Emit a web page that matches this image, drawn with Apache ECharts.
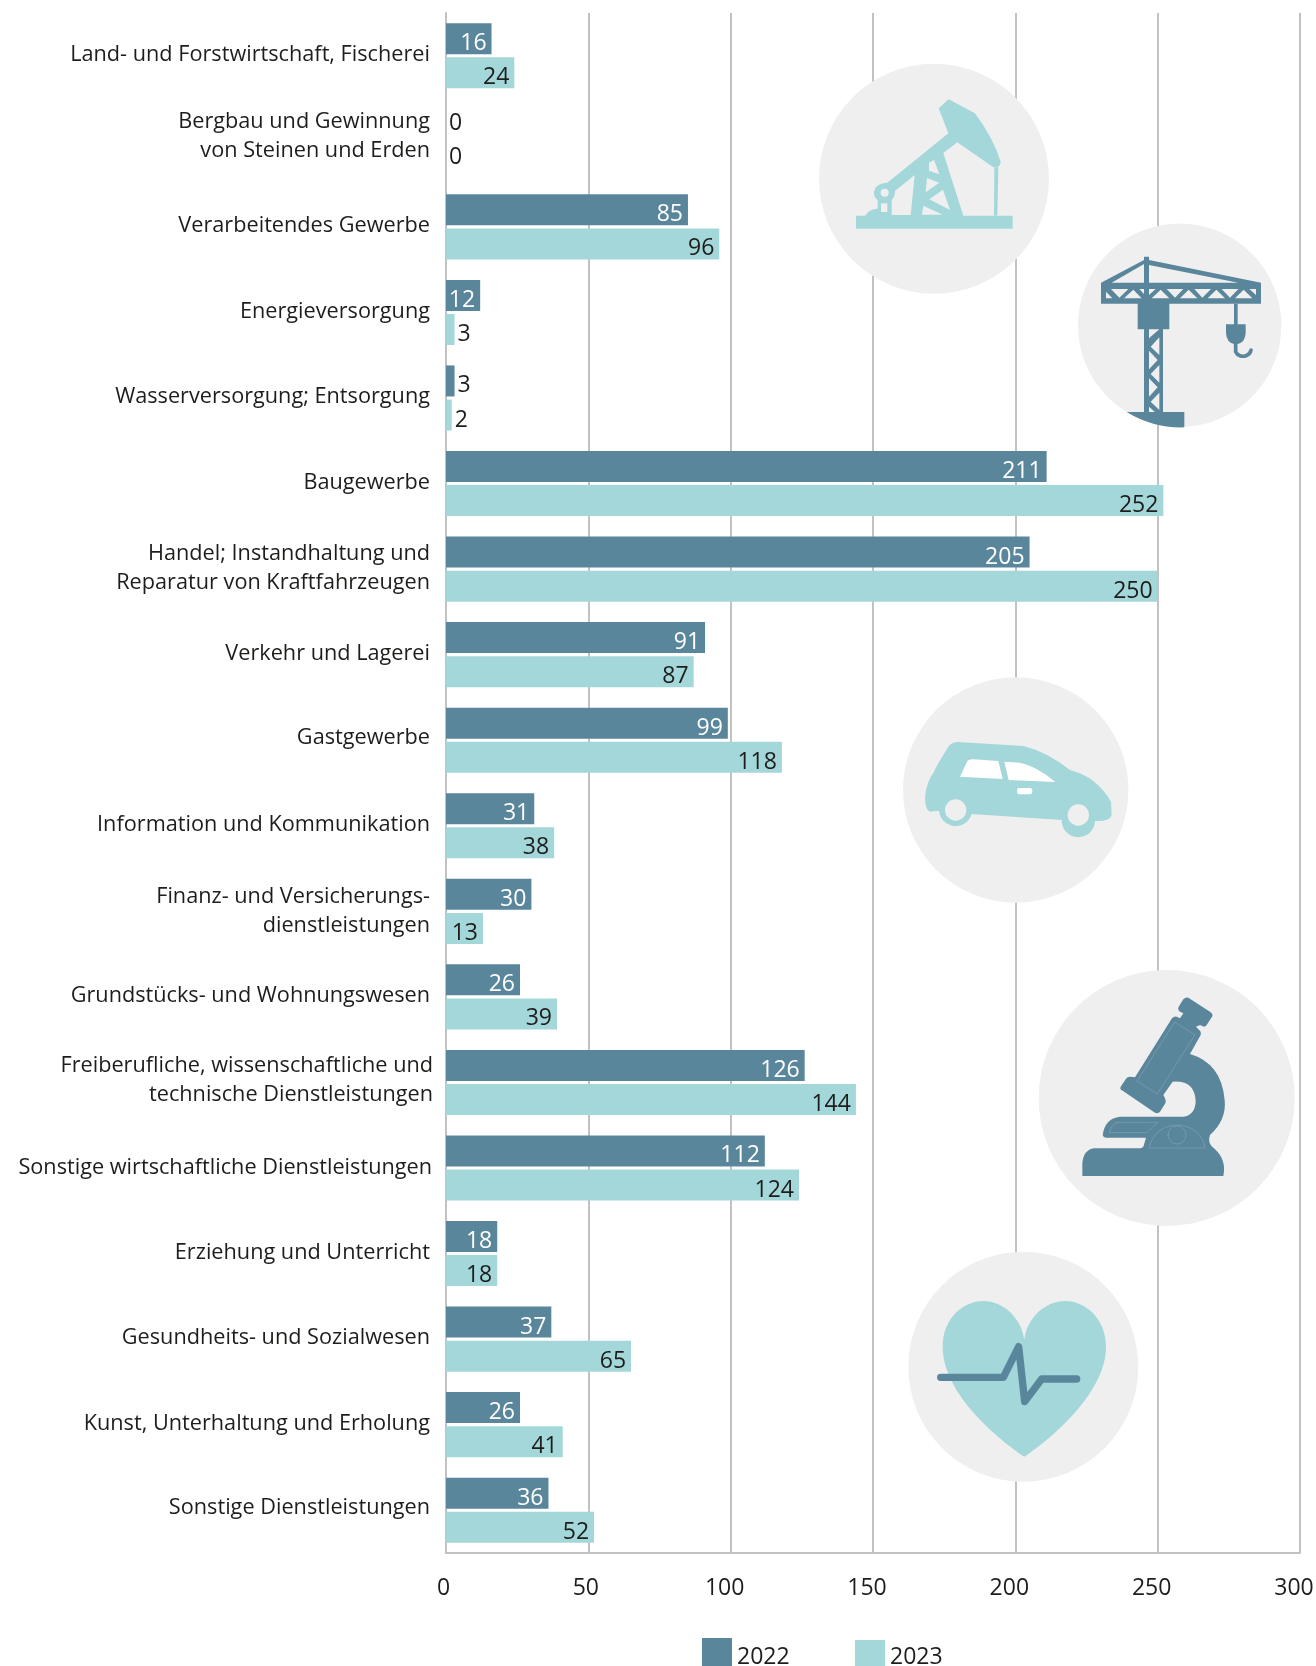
<!DOCTYPE html>
<html><head><meta charset="utf-8">
<style>html,body{margin:0;padding:0;background:#fff;overflow:hidden}#c{width:1316px;height:1666px}</style>
<script src="https://cdn.jsdelivr.net/npm/echarts@6/dist/echarts.min.js"></script>
</head><body><div id="c"></div>
<script>
const categories = ["Land- und Forstwirtschaft, Fischerei","Bergbau und Gewinnung\nvon Steinen und Erden","Verarbeitendes Gewerbe","Energieversorgung","Wasserversorgung; Entsorgung","Baugewerbe","Handel; Instandhaltung und\nReparatur von Kraftfahrzeugen","Verkehr und Lagerei","Gastgewerbe","Information und Kommunikation","Finanz- und Versicherungs-\ndienstleistungen","Grundstücks- und Wohnungswesen","Freiberufliche, wissenschaftliche und\ntechnische Dienstleistungen","Sonstige wirtschaftliche Dienstleistungen","Erziehung und Unterricht","Gesundheits- und Sozialwesen","Kunst, Unterhaltung und Erholung","Sonstige Dienstleistungen"];
const values2022 = [16,0,85,12,3,211,205,91,99,31,30,26,126,112,18,37,26,36];
const values2023 = [24,0,96,3,2,252,250,87,118,38,13,39,144,124,18,65,41,52];
const DARK = '#5a869c', LIGHT = '#a4d7da', CIRCLE = '#efefef', FONT = '"Open Sans"', TXT = '#1d1d1b', GRID = '#c2c2c2';

// Style nudges for the category labels (pixels up, pixels right), same order as categories.
const labelUp = [1,5,1,1,1,1,1,1,2,1,0,1,2,0,1,1,1,2];
const labelRight = [0,0,0,0,0,0,0,0,0,0,0,0,3,2,0,0,0,0];

function circle(cx, cy, r){ return {type:'circle', shape:{cx,cy,r}, style:{fill:CIRCLE}, z:1}; }
let shapeId = 0;
function icon(x, y, items){
  return {type:'group', x, y, scaleX:1/3, scaleY:1/3, z:2, children:items.map(i=>{
    const name = 'iconShape' + (shapeId++);
    echarts.graphic.registerShape(name, echarts.graphic.extendPath(i.d, {}));
    return {type:name, style:{fill:i.fill||'none', stroke:i.stroke||null, lineWidth:i.w||0, lineCap:'round', lineJoin:'round'}, z:2};
  })};
}
const pump = [
 {fill:LIGHT,d:'M228 527H256Q268 506 293 506V480Q280 470 282 455Q286 430 322 428L505 280L476 205L506 178L585 220Q640 295 662 365Q662 378 650 382L640 382L532 307L490 339L550 527H698V566H228Z'},
 {fill:LIGHT,d:'M643 382H655L652 527H642Z'},
 {fill:CIRCLE,d:'M345 453L404 405L392 525L335 525V480Q345 470 345 453Z'},
 {fill:CIRCLE,d:'M447 368L462 360L478 403L447 392Z'},
 {fill:CIRCLE,d:'M441 414L478 428L437 457Z'},
 {fill:CIRCLE,d:'M489 449L510 510L448 478Z'},
 {fill:CIRCLE,d:'M430 497L488 524L426 524Z'},
 {fill:CIRCLE,d:'M302 458A12 12 0 1 0 326 458A12 12 0 1 0 302 458Z'},
 {fill:CIRCLE,d:'M303 490H322V516H303Z'}
];
const crane = [
 {fill:DARK,d:'M963 728L1092 660V650H1107V660L1443 728V791H1168V868H1149V1116H1213V1162Q1120 1165 1040 1116H1092V868H1073V791H963Z'},
 {fill:CIRCLE,d:'M995 728L1092 672V728Z'},
 {fill:CIRCLE,d:'M1107 675L1375 728H1107Z'},
 {fill:CIRCLE,d:'M978 755L997 775H978ZM993 747H1045L1018 773ZM1032 775L1060 749L1085 775ZM1078 747H1092V762ZM1107 747H1127L1107 765ZM1115 775L1142 749L1168 775ZM1160 747H1210L1185 773ZM1200 775L1226 749L1252 775ZM1243 747H1293L1267 773ZM1283 775L1309 749L1335 775ZM1325 747H1375L1350 773ZM1365 775L1391 749L1417 775ZM1408 747H1428V765Z'},
 {fill:CIRCLE,d:'M1107 868H1138L1107 895ZM1107 932L1133 960L1107 988ZM1107 1015L1133 1042L1107 1070ZM1138 892L1112 920L1138 945ZM1138 975L1112 1002L1138 1028ZM1138 1058L1112 1085L1138 1110ZM1107 1100L1125 1116H1107Z'},
 {fill:DARK,d:'M1362 791H1373V853H1397V880Q1395 908 1373 912H1362Q1340 908 1338 880V853H1362Z'},
 {stroke:DARK,w:11,d:'M1367 912V935A24 22 0 0 0 1413 930'}
];
const car = [
 {fill:LIGHT,d:'M135 410Q140 365 162 335Q165 325 205 260Q215 246 235 246L430 258Q500 275 570 330Q650 350 693 425L695 465Q690 485 645 483A50 50 0 0 1 545 480L275 462A50 50 0 0 1 177 452L150 455Q135 450 135 410Z'},
 {fill:CIRCLE,d:'M195 450A32 32 0 1 0 259 450A32 32 0 1 0 195 450Z'},
 {fill:CIRCLE,d:'M563 465A32 32 0 1 0 627 465A32 32 0 1 0 563 465Z'},
 {fill:'#fff',d:'M240 350L262 303Q268 297 280 298L355 303L368 357Z'},
 {fill:'#fff',d:'M373 305L420 308Q470 318 526 366L386 360Z'},
 {fill:'#fff',d:'M418 384H450Q457 384 457 393Q457 403 450 403H418Q411 403 411 393Q411 384 418 384Z'}
];
const THIN = 'rgba(255,255,255,0.3)';
const scope = [
 {fill:DARK,d:'M187 648H610Q620 600 585 568Q560 550 570 525Q620 480 614 420Q605 310 510 282L542 225Q545 215 535 208L528 200L540 195L552 200Q558 200 562 192L578 167Q578 160 570 155L505 113Q497 110 490 118L476 140Q472 150 480 155L490 160L480 175L470 170Q462 168 456 175L345 352L330 350Q322 350 318 356L302 380Q298 388 308 392L405 458Q415 462 420 455L436 430Q440 422 430 405L458 365Q525 360 527 425Q525 465 490 470H300Q255 475 248 525Q250 533 258 533H378L370 560Q365 565 360 565H222Q190 570 187 610Z'},
 {stroke:THIN,w:1.5,d:'M465 187L525 224L412 402L352 364Z'},
 {stroke:THIN,w:1.5,d:'M290 487H413L380 518H267Q270 500 290 487Z'},
 {stroke:THIN,w:1.5,d:'M388 563A84 76 0 0 1 555 563Z'},
 {stroke:THIN,w:1.5,d:'M444 525A27 27 0 1 0 498 525A27 27 0 1 0 444 525Z'}
];
const heart = [
 {fill:LIGHT,d:'M403 650C300 580 158 450 158 320C158 240 215 183 280 183C340 183 395 235 403 300C410 235 465 183 525 183C590 183 648 240 648 320C648 450 500 585 403 650Z'},
 {stroke:DARK,w:22,d:'M152 412H340L386 320L404 485L455 417H560'}
];
const barLabel = (color, data) => data.map(v => v === 0
  ? {value:v, label:{show:true, position:'right', distance:3, color:TXT, offset:[0,-1]}}
  : v < 5
  ? {value:v, label:{show:true, position:'right', distance:3, color:TXT, offset:[0,5]}}
  : {value:v, label:{show:true, position:'insideRight', distance:5, color, offset:[0,5]}});

const catFont = {fontFamily:FONT, fontSize:21.7, fontWeight:400, color:TXT, lineHeight:29};
const rich = {};
for (let r of [0,1,2,3]) rich['t'+r] = Object.assign({}, catFont, {padding:[0,r,0,0]});
for (let u = 1; u <= 7; u++) rich['g'+u] = {fontSize:1, lineHeight:u*2, height:u*2, color:'transparent'};
function catLabel(value, index){
  const body = value.split('\n').map(l => '{t'+(3 - labelRight[index])+'|'+l+'}').join('\n');
  const u = labelUp[index];
  return u ? body + '\n{g'+u+'| }' : body;
}

const numFont = {fontFamily:FONT, fontSize:23, fontWeight:400};
const numText = Object.assign({}, numFont, {color:TXT});
const legendStyle = down => ({
  formatter: n => '{g| }\n{a|' + n + '}',
  textStyle: {rich:{g:{fontSize:1, lineHeight:down, height:down, color:'transparent'}, a:numText}}
});
const chart = echarts.init(document.getElementById('c'), null, {renderer:'canvas', width:1316, height:1666});
chart.setOption({
 animation:false,
 backgroundColor:'#fff',
 textStyle:{fontFamily:FONT},
 grid:{left:446, top:13, width:854, height:1540, outerBoundsMode:'none', containLabel:false},
 legend:[
  Object.assign({data:['2022'], left:702, top:1637, padding:0, itemWidth:30, itemHeight:30, itemGap:5, icon:'rect'}, legendStyle(9)),
  Object.assign({data:['2023'], left:855, top:1640, padding:0, itemWidth:30, itemHeight:30, itemGap:5, icon:'rect'}, legendStyle(5))
 ],
 xAxis:{type:'value', min:0, max:300, interval:50,
  axisLine:{show:true, lineStyle:{color:GRID,width:2}}, axisTick:{show:false},
  splitLine:{show:true, lineStyle:{color:GRID,width:2}},
  axisLabel:{margin:22, hideOverlap:false, showMinLabel:true, showMaxLabel:true,
    formatter: v => '{' + (v <= 50 ? 'near' : 'far') + '|' + v + '}',
    rich:{near:Object.assign({}, numText, {padding:[2,5,0,0]}), far:Object.assign({}, numText, {padding:[2,12,0,0]})}}},
 yAxis:{type:'category', inverse:true, data:categories,
  axisLine:{show:true, lineStyle:{color:GRID,width:2}}, axisTick:{show:false},
  axisLabel:{margin:13, interval:0, align:'right', formatter:catLabel, rich}},
 series:[
  {name:'2022', type:'bar', data:barLabel('#fff',values2022), barWidth:31, barGap:'10%', itemStyle:{color:DARK}, label:numFont, z:3},
  {name:'2023', type:'bar', data:barLabel(TXT,values2023), barWidth:31, barGap:'10%', itemStyle:{color:LIGHT}, label:numFont, z:3}
 ],
 color:[DARK,LIGHT],
 graphic:{elements:[
  circle(934,178.7,115), icon(780,40,pump),
  circle(1179.7,325.3,101.7), icon(780,40,crane),
  circle(1015.7,790,112.7), icon(880,660,car),
  circle(1166.7,1098,128), icon(1020,960,scope),
  circle(1023.3,1366.7,115), icon(890,1240,heart)
 ]}
});
</script></body></html>
